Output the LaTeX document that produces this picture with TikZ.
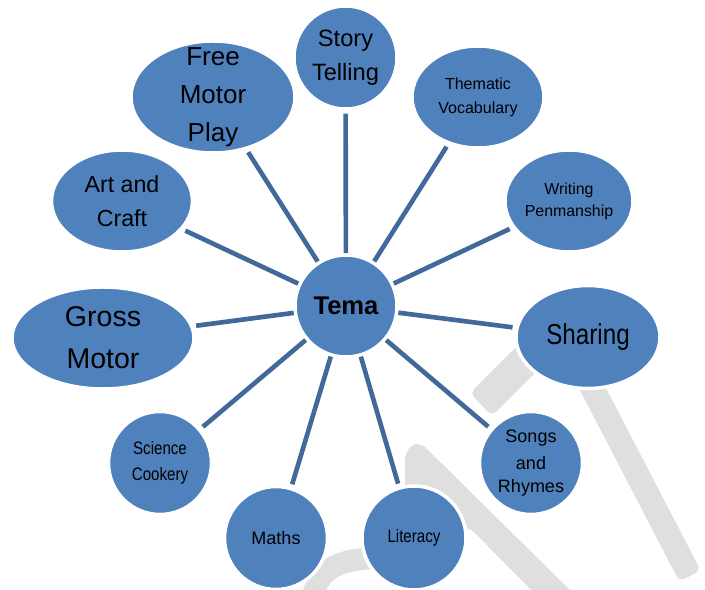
\documentclass[tikz,border=0pt]{standalone}
\usepackage{fontspec}
\setmainfont{Liberation Sans}
\newfontfamily\narrowfont[FakeStretch=0.84]{Liberation Sans}
\usetikzlibrary{shapes.geometric}

\definecolor{bubbleblue}{RGB}{79,129,189}
\definecolor{spokeblue}{RGB}{65,106,155}
\definecolor{markgrey}{RGB}{223,223,223}

\begin{document}
\begin{tikzpicture}[x=0.025cm, y=-0.025cm,
  bubble/.style={ellipse, fill=bubbleblue, draw=white, line width=2.5pt, inner sep=0pt, align=center, text=black},
  spoke/.style={draw=spokeblue, line width=3.3pt, shorten >=2pt},
  markbar/.style={fill=markgrey, rounded corners=4pt}]

\useasboundingbox (0,0) rectangle (705,590);

% grey shapes behind
\fill[markbar] (572.3,375.5) -- (593.7,364.5) -- (700.7,570.5) -- (679.3,581.5) -- cycle;
\fill[markbar] (470,393) -- (492,416) -- (545,363) -- (523,340) -- cycle;
\fill[markbar] (405,455) -- (412,444) -- (422,444) -- (580,600) -- (541,600) -- (470,528) -- (405,528) -- cycle;
\draw[markgrey, line width=15.6pt] (312,600) .. controls (318,570) and (335,558) .. (385,558);

\node[bubble, minimum size=2.55cm, font=\fontsize{18.2}{26}\selectfont\bfseries] (tema) at (346,306) {Tema};

\node[bubble, minimum size=2.575cm, font=\fontsize{16.8}{24.2}\selectfont] (story) at (345.5,57.5) {Story\\Telling};
\node[bubble, minimum width=3.3cm, minimum height=2.55cm, font=\fontsize{11.4}{17}\selectfont] (thematic) at (478,97) {Thematic\\Vocabulary};
\node[bubble, minimum width=3.2cm, minimum height=2.55cm, font=\fontsize{11.3}{15.6}\selectfont] (writing) at (569,201) {Writing\\Penmanship};
\node[bubble, minimum width=3.6cm, minimum height=2.575cm, font=\narrowfont\fontsize{20.5}{24}\selectfont] (sharing) at (588,337) {Sharing};
\node[bubble, minimum size=2.575cm, font=\fontsize{12.8}{16.4}\selectfont] (songs) at (531,463) {Songs\\[2.8pt]and\\Rhymes};
\node[bubble, minimum size=2.6cm, font=\narrowfont\fontsize{12.8}{18}\selectfont] (literacy) at (414,538) {Literacy};
\node[bubble, minimum size=2.575cm, font=\fontsize{12.8}{18}\selectfont] (maths) at (276,538) {Maths};
\node[bubble, minimum size=2.575cm, font=\narrowfont\fontsize{12.8}{18.5}\selectfont] (science) at (160,463) {Science\\Cookery};
\node[bubble, minimum width=4.55cm, minimum height=2.55cm, font=\fontsize{20.3}{29.9}\selectfont] (gross) at (103,338) {Gross\\Motor};
\node[bubble, minimum width=3.525cm, minimum height=2.55cm, font=\fontsize{16.5}{24.2}\selectfont] (art) at (122,201) {Art and\\Craft};
\node[bubble, minimum width=4.1cm, minimum height=2.8cm, inner sep=-10pt, font=\fontsize{18.5}{27}\selectfont] (free) at (213,97) {Free\\Motor\\Play};

\draw[spoke] (tema) -- (story);
\draw[spoke] (tema) -- (thematic);
\draw[spoke] (tema) -- (writing);
\draw[spoke] (tema) -- (sharing);
\draw[spoke] (tema) -- (songs);
\draw[spoke] (tema) -- (literacy);
\draw[spoke] (tema) -- (maths);
\draw[spoke] (tema) -- (science);
\draw[spoke] (tema) -- (gross);
\draw[spoke] (tema) -- (art);
\draw[spoke] (tema) -- (free);

\end{tikzpicture}
\end{document}
